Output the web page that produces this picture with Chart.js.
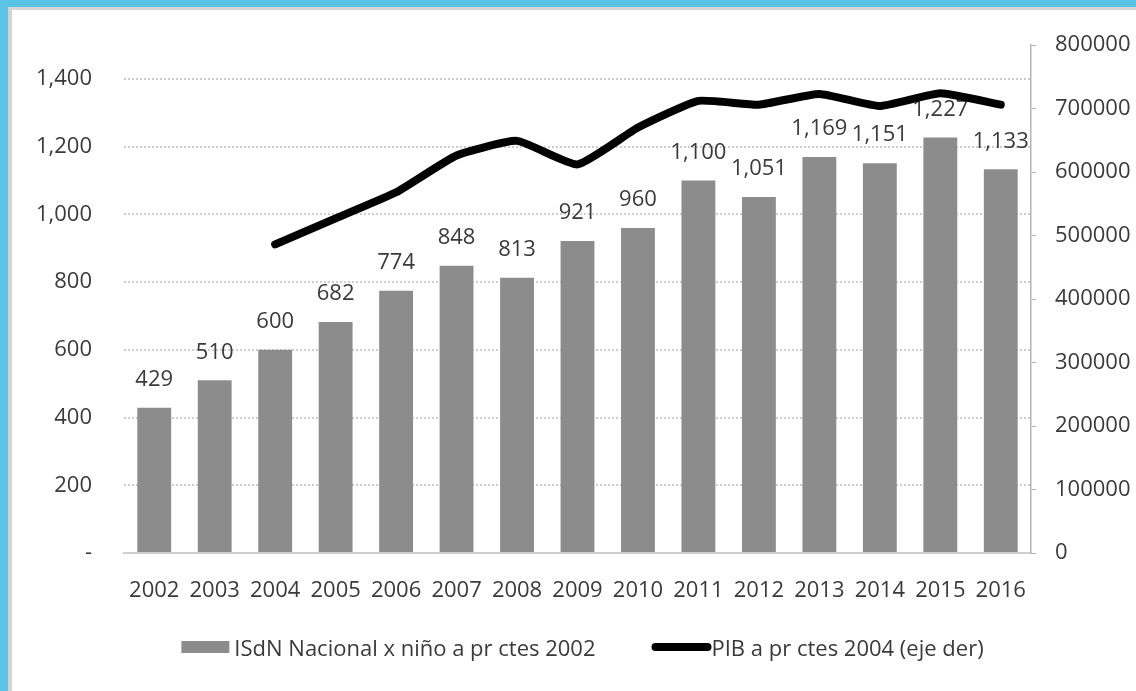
<!DOCTYPE html>
<html><head><meta charset="utf-8">
<script src="https://cdn.jsdelivr.net/npm/chart.js@4"></script>
<style>
html,body{margin:0;padding:0;background:#fff;}
#frame{position:absolute;left:0;top:0;width:1136px;height:691px;background:#5bc3e6;overflow:hidden;}
#panel{position:absolute;left:8px;top:7px;right:0;bottom:0;background:#fff;border-left:4px solid #d3d3d3;border-top:3px solid #d6d6d6;}
#wrap{position:absolute;left:13px;top:10px;width:1123px;height:681px;}
</style></head>
<body>
<div id="frame"><div id="panel"></div><div id="wrap"><canvas id="c"></canvas></div></div>
<script>
const years = ['2002','2003','2004','2005','2006','2007','2008','2009','2010','2011','2012','2013','2014','2015','2016'];
const isdn = [429,510,600,682,774,848,813,921,960,1100,1051,1169,1151,1227,1133];
const pib = [null,null,486000,527000,568000,626000,649000,612000,670000,712000,706000,723000,704000,724000,706000];
const seriesNames = ['ISdN Nacional x niño a pr ctes 2002','PIB a pr ctes 2004 (eje der)'];
const leftMax = 1500, leftStep = 200;
const rightMax = 800000, rightStep = 100000;

const FONT = '"Open Sans", sans-serif';
const FS = 22;
const TXT = '#3a3a3a';
const BAR = '#8c8c8c';

const barLabels = {
  id: 'barLabels',
  afterDatasetDraw(chart, args) {
    if (args.index !== 1) return;
    const ctx = chart.ctx;
    ctx.save();
    ctx.font = FS + 'px ' + FONT;
    ctx.fillStyle = TXT;
    ctx.textAlign = 'center';
    ctx.textBaseline = 'middle';
    args.meta.data.forEach((el, i) => {
      ctx.fillText(isdn[i].toLocaleString('en-US'), el.x, el.y - 28);
    });
    ctx.restore();
  }
};

const customLegend = {
  id: 'customLegend',
  afterDraw(chart) {
    const ctx = chart.ctx;
    const a = chart.chartArea;
    ctx.save();
    ctx.font = FS + 'px ' + FONT;
    ctx.textBaseline = 'middle';
    const w1 = ctx.measureText(seriesNames[0]).width;
    const w2 = ctx.measureText(seriesNames[1]).width;
    const total = 48 + 5 + w1 + 57 + 57 + 2 + w2;
    let x = (a.left + a.right) / 2 + 5 - total / 2;
    const y = 637;
    ctx.fillStyle = BAR;
    ctx.fillRect(x, y - 6, 48, 12);
    x += 53;
    ctx.fillStyle = TXT;
    ctx.fillText(seriesNames[0], x, y + 3);
    x += w1 + 57;
    ctx.strokeStyle = '#000';
    ctx.lineWidth = 8;
    ctx.lineCap = 'round';
    ctx.beginPath(); ctx.moveTo(x + 3, y); ctx.lineTo(x + 55, y); ctx.stroke();
    x += 59;
    ctx.fillText(seriesNames[1], x, y + 3);
    ctx.restore();
  }
};

function noPad(s) { s.paddingTop = 0; s.paddingBottom = 0; s.paddingLeft = 0; s.paddingRight = 0; }

new Chart(document.getElementById('c'), {
  type: 'bar',
  data: {
    labels: years,
    datasets: [
      { type: 'line', label: seriesNames[1], data: pib, yAxisID: 'y2', order: 0,
        borderColor: '#000', borderWidth: 8, pointRadius: 0, tension: 0.15,
        borderCapStyle: 'round', borderJoinStyle: 'round', fill: false },
      { type: 'bar', label: seriesNames[0], data: isdn, yAxisID: 'y', order: 1,
        backgroundColor: BAR, categoryPercentage: 1, barPercentage: 0.56 }
    ]
  },
  options: {
    responsive: true, maintainAspectRatio: false, animation: false,
    layout: { padding: { top: 35, left: 0, right: 0, bottom: 0 } },
    plugins: { legend: { display: false }, tooltip: { enabled: false } },
    scales: {
      x: {
        offset: true,
        grid: { display: false },
        border: { display: true, color: '#cfcfcf', width: 2 },
        ticks: { color: TXT, font: { family: FONT, size: FS }, padding: 17, maxRotation: 0, autoSkip: false },
        afterFit(s) { s.height = 138; noPad(s); }
      },
      y: {
        position: 'left', min: 0, max: leftMax,
        border: { display: false, dash: [2, 2] },
        grid: { color: '#cdcdcd', lineWidth: 2, drawTicks: false },
        ticks: { stepSize: leftStep, includeBounds: false, padding: 32, color: TXT,
          font: { family: FONT, size: FS },
          callback: v => v === 0 ? '-' : v.toLocaleString('en-US') },
        afterFit(s) { s.width = 111; noPad(s); }
      },
      y2: {
        position: 'right', min: 0, max: rightMax,
        border: { display: true, color: '#b5b5b5', width: 1.5 },
        grid: { drawOnChartArea: false, drawTicks: true, tickLength: 5, color: '#b5b5b5' },
        ticks: { stepSize: rightStep, padding: 19, color: TXT, font: { family: FONT, size: FS },
          callback: v => String(v) },
        afterFit(s) { s.width = 105; noPad(s); }
      }
    }
  },
  plugins: [barLabels, customLegend]
});
</script>
</body></html>
